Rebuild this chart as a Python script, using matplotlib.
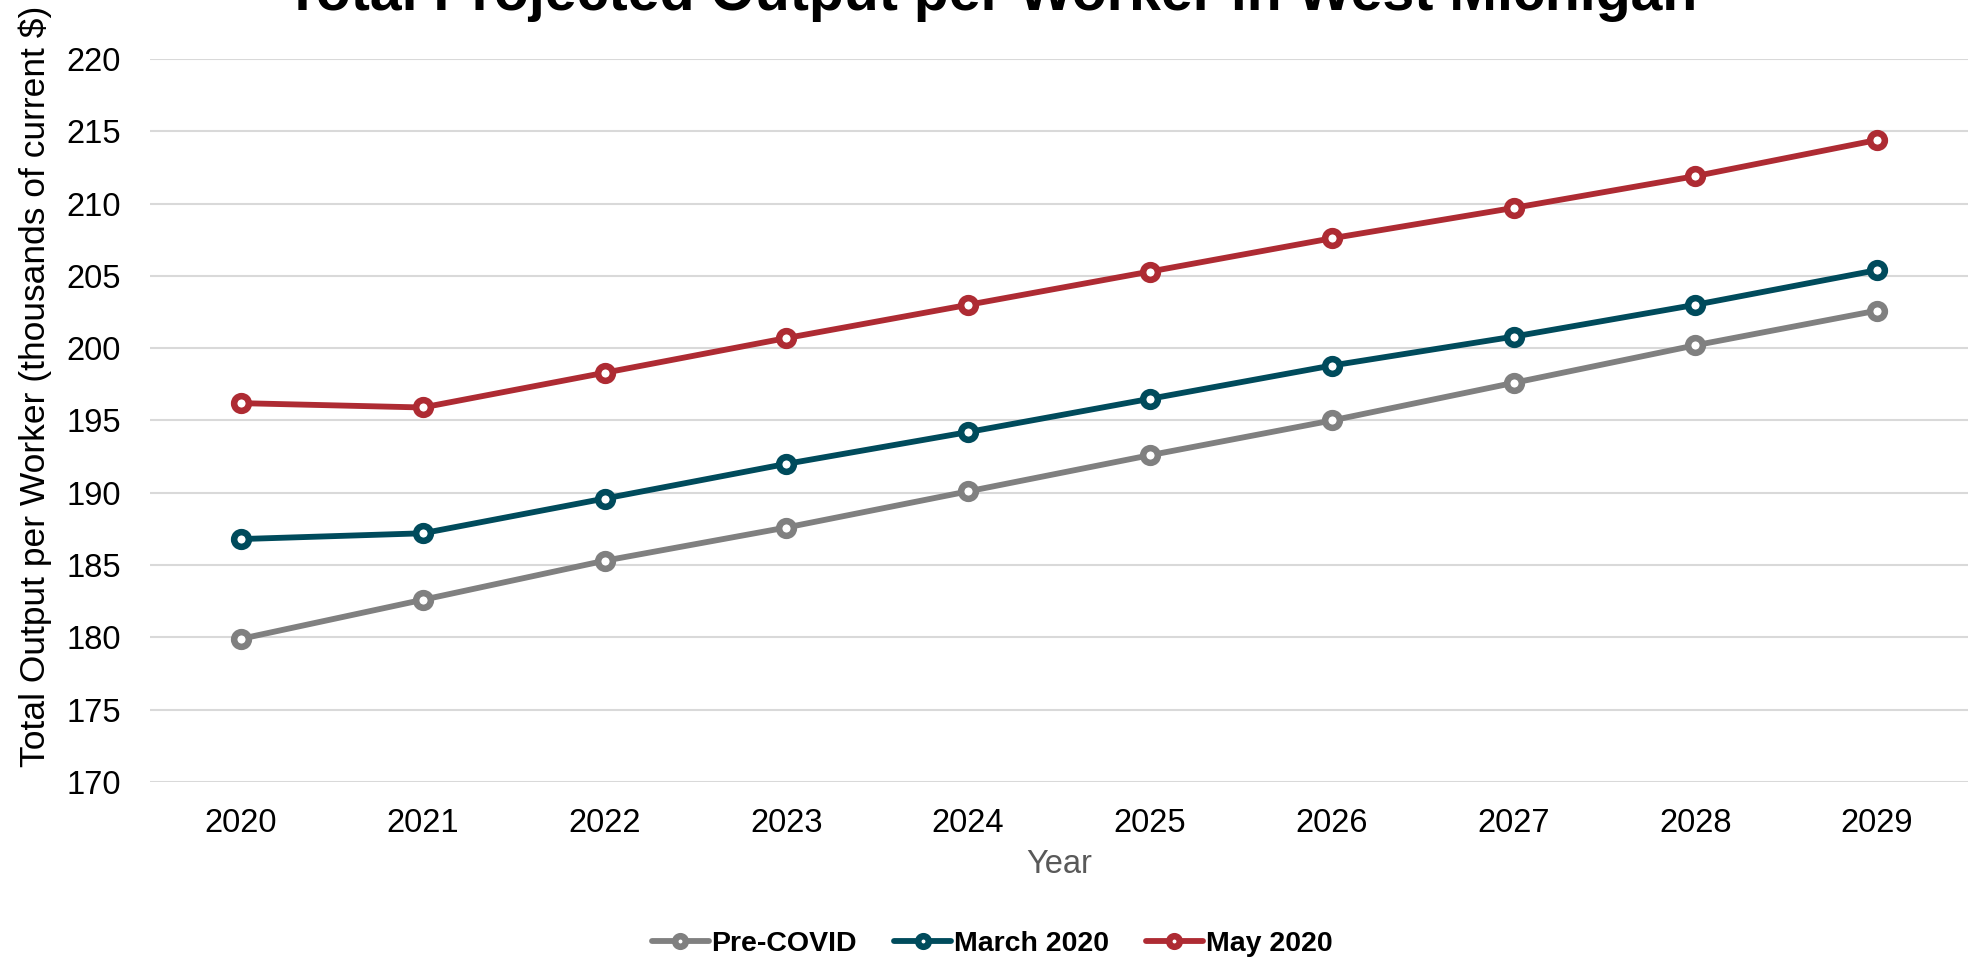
import matplotlib
matplotlib.use('Agg')
import matplotlib.pyplot as plt

## DATA
years = [2020, 2021, 2022, 2023, 2024, 2025, 2026, 2027, 2028, 2029]
pre_covid = [179.9, 182.6, 185.3, 187.6, 190.1, 192.6, 195.0, 197.6, 200.2, 202.6]
march_2020 = [186.8, 187.2, 189.6, 192.0, 194.2, 196.5, 198.8, 200.8, 203.0, 205.4]
may_2020 = [196.2, 195.9, 198.3, 200.7, 203.0, 205.3, 207.6, 209.7, 211.9, 214.4]
series_names = ['Pre-COVID', 'March 2020', 'May 2020']
series_colors = ['#808080', '#004b5c', '#ae2b33']
y_ticks = [170, 175, 180, 185, 190, 195, 200, 205, 210, 215, 220]

## ARIAL-LIKE FONT FOR EVERYTHING
body_font = ['Liberation Sans', 'DejaVu Sans']

W, H = 1970, 963
fig = plt.figure(figsize=(W / 100, H / 100), dpi=100)
ax = fig.add_axes([150 / W, 1 - 782 / H, 1818 / W, (782 - 59) / H])

## DRAWS THE THREE LINES WITH HOLLOW CIRCLE MARKERS
for vals, name, col in zip([pre_covid, march_2020, may_2020], series_names, series_colors):
    ax.plot(years, vals, color=col, linewidth=4.2, marker='o', markersize=10.6,
            markeredgewidth=4.7, markerfacecolor='white', markeredgecolor=col,
            label=name, solid_capstyle='round', zorder=3)

ax.set_xlim(2019.5, 2029.5)
ax.set_ylim(170, 220)
ax.set_xticks(years)
ax.set_yticks(y_ticks)
ax.grid(axis='y', color='#d9d9d9', linewidth=1.5)
ax.set_axisbelow(True)
for s in ax.spines.values():
    s.set_visible(False)
ax.tick_params(axis='both', length=0, labelsize=23.5, labelcolor='black')
ax.tick_params(axis='y', pad=21)
ax.tick_params(axis='x', pad=19)
for lab in ax.get_xticklabels() + ax.get_yticklabels():
    lab.set_family(body_font)

## AXIS LABELS
fig.text(1059 / W, 1 - 864 / H, 'Year', ha='center', va='center',
         fontsize=23.5, color='#595959', family=body_font)
fig.text(35 / W, 1 - 386 / H, 'Total Output per Worker (thousands of current $)',
         rotation=90, ha='center', va='center', fontsize=25.5, color='black',
         family=body_font)

## TITLE (CUT OFF AT THE TOP IN THE REFERENCE)
fig.text(991 / W, 1 - 10 / H, 'Total Projected Output per Worker in West Michigan',
         ha='center', va='baseline', fontsize=41.2, fontweight='bold',
         family=body_font, color='black')

## LEGEND
fig.legend(loc='center', bbox_to_anchor=(992 / W, 1 - 944 / H), ncol=3,
           frameon=False, handlelength=2.0, handletextpad=0.1,
           columnspacing=1.3, markerscale=0.72,
           prop={'family': body_font, 'weight': 'bold', 'size': 20.5})

fig.savefig('out.png', dpi=100)
